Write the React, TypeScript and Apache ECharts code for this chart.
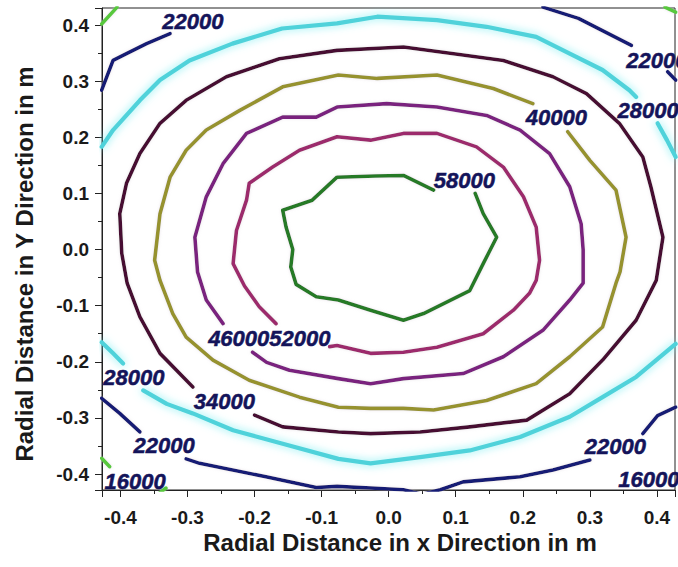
import React, { useEffect, useRef } from "react";
import * as echarts from "echarts";

// Contour level 58000 (closed loop, gap at label)
const c58 = [[0.067,0.106],[0.022,0.132],[-0.02,0.131],[-0.077,0.129],[-0.114,0.088],[-0.158,0.070],[-0.153,0.040],[-0.143,0.000],[-0.146,-0.031],[-0.138,-0.062],[-0.108,-0.084],[-0.075,-0.090],[-0.027,-0.108],[0.022,-0.126],[0.052,-0.114],[0.121,-0.073],[0.141,-0.025],[0.161,0.022],[0.141,0.064],[0.129,0.100]];
// 52000
const c52 = [[-0.088,-0.173],[-0.077,-0.171],[-0.027,-0.185],[0.022,-0.183],[0.072,-0.174],[0.141,-0.150],[0.186,-0.108],[0.210,-0.078],[0.220,-0.055],[0.225,-0.019],[0.220,0.040],[0.201,0.094],[0.171,0.147],[0.131,0.183],[0.072,0.207],[0.022,0.207],[-0.027,0.195],[-0.077,0.201],[-0.133,0.177],[-0.173,0.147],[-0.208,0.118],[-0.212,0.088],[-0.227,0.034],[-0.232,-0.025],[-0.215,-0.065],[-0.193,-0.102],[-0.168,-0.132]];
// 46000
const c46 = [[-0.203,-0.183],[-0.182,-0.201],[-0.148,-0.215],[-0.075,-0.230],[-0.027,-0.239],[0.022,-0.230],[0.111,-0.221],[0.171,-0.191],[0.230,-0.144],[0.270,-0.090],[0.290,-0.060],[0.290,0.000],[0.287,0.046],[0.270,0.112],[0.240,0.171],[0.196,0.213],[0.146,0.239],[0.072,0.254],[-0.003,0.260],[-0.077,0.254],[-0.108,0.236],[-0.158,0.236],[-0.212,0.207],[-0.247,0.153],[-0.272,0.094],[-0.289,0.022],[-0.285,-0.040],[-0.272,-0.090],[-0.247,-0.132]];
// 40000
const c40 = [[0.267,0.210],[0.300,0.159],[0.339,0.106],[0.354,0.022],[0.345,-0.040],[0.339,-0.060],[0.319,-0.138],[0.270,-0.191],[0.220,-0.239],[0.146,-0.269],[0.067,-0.286],[0.022,-0.283],[-0.027,-0.283],[-0.075,-0.281],[-0.133,-0.263],[-0.208,-0.233],[-0.262,-0.197],[-0.302,-0.156],[-0.322,-0.114],[-0.341,-0.055],[-0.349,-0.019],[-0.341,0.064],[-0.326,0.129],[-0.302,0.177],[-0.272,0.213],[-0.222,0.248],[-0.158,0.290],[-0.075,0.311],[-0.017,0.305],[0.072,0.311],[0.156,0.287],[0.215,0.260]];
// 34000
const c34 = [[-0.200,-0.295],[-0.158,-0.316],[-0.075,-0.325],[-0.027,-0.328],[0.047,-0.325],[0.121,-0.316],[0.206,-0.304],[0.270,-0.257],[0.319,-0.197],[0.369,-0.126],[0.399,-0.055],[0.409,0.022],[0.391,0.112],[0.379,0.165],[0.344,0.225],[0.295,0.278],[0.245,0.308],[0.171,0.337],[0.097,0.349],[0.022,0.361],[-0.077,0.355],[-0.163,0.340],[-0.242,0.308],[-0.302,0.266],[-0.341,0.225],[-0.371,0.171],[-0.391,0.118],[-0.401,0.064],[-0.398,-0.007],[-0.390,-0.060],[-0.371,-0.120],[-0.341,-0.185],[-0.292,-0.245]];
// 28000
const c28Top = [[-0.428,0.183],[-0.411,0.213],[-0.371,0.266],[-0.341,0.302],[-0.297,0.337],[-0.233,0.367],[-0.159,0.394],[-0.077,0.403],[-0.017,0.415],[0.072,0.409],[0.146,0.397],[0.220,0.379],[0.270,0.349],[0.319,0.320],[0.359,0.284],[0.369,0.272]];
const c28Right = [[0.401,0.225],[0.415,0.195],[0.428,0.165]];
const c28BotLeft = [[-0.428,-0.165],[-0.411,-0.185],[-0.396,-0.203]];
const c28Bot = [[-0.366,-0.251],[-0.331,-0.275],[-0.292,-0.292],[-0.232,-0.322],[-0.158,-0.346],[-0.075,-0.373],[-0.027,-0.381],[0.047,-0.370],[0.121,-0.358],[0.196,-0.334],[0.270,-0.298],[0.319,-0.263],[0.369,-0.227],[0.428,-0.168]];
// 22000
const c22TopLeft = [[-0.428,0.284],[-0.411,0.337],[-0.391,0.349],[-0.361,0.367],[-0.326,0.385]];
const c22TopRight = [[0.230,0.432],[0.283,0.412],[0.362,0.364]];
const c22Right = [[0.416,0.317],[0.428,0.302]];
const c22BotLeft = [[-0.428,-0.265],[-0.401,-0.292],[-0.371,-0.325]];
const c22Bot = [[-0.302,-0.373],[-0.282,-0.381],[-0.183,-0.405],[-0.108,-0.424],[-0.077,-0.422],[-0.027,-0.425],[0.022,-0.428],[0.050,-0.436],[0.077,-0.428],[0.111,-0.414],[0.196,-0.405],[0.245,-0.393],[0.300,-0.375]];
const c22BotRight = [[0.379,-0.328],[0.401,-0.296],[0.428,-0.281]];
// 16000
const c16TopLeft = [[-0.428,0.402],[-0.405,0.432]];
const c16TopRight = [[0.412,0.432],[0.428,0.423]];
const c16BotLeft = [[-0.428,-0.372],[-0.416,-0.387]];
const c16BotLeft2 = [[-0.342,-0.434],[-0.332,-0.425]];

// Contour labels
const labelText = ["22000","22000","28000","40000","58000","4600052000","34000","28000","22000","22000","16000","16000"];
const labelX = [-0.292, 0.400, 0.387, 0.250, 0.113, -0.178, -0.245, -0.380, -0.335, 0.338, -0.378, 0.388];
const labelY = [0.407, 0.337, 0.248, 0.235, 0.1235, -0.158, -0.271, -0.228, -0.349, -0.3515, -0.4127, -0.410];

const C58 = "#277a27";
const C52 = "#9c2c6c";
const C46 = "#7a207e";
const C40 = "#96922f";
const C34 = "#470c30";
const C28 = "#4fd2da";
const C22 = "#121c74";
const C16 = "#58c83c";
const CLABEL = "#14145a";

const FONT = "'Liberation Sans', Arial, sans-serif";

export default function App() {
  const ref = useRef<HTMLDivElement>(null);
  useEffect(() => {
    if (!ref.current) return;
    const chart = echarts.init(ref.current, null, { renderer: "svg" });
    const seg = (pts: number[][], color: string, width = 3.6, glow = false) => ({
      type: "line",
      data: pts,
      showSymbol: false,
      symbol: "none",
      smooth: false,
      clip: true,
      silent: true,
      z: 2,
      lineStyle: {
        color,
        width,
        cap: "round",
        join: "round",
        shadowBlur: glow ? 9 : 3,
        shadowColor: glow ? "rgba(120,238,242,0.95)" : "rgba(210,200,210,0.5)",
      },
    });
    const tickFmt = (v: number) => {
      const r = Math.round(v * 10);
      return Math.abs(v * 10 - r) < 1e-6 ? (r / 10).toFixed(1) : "";
    };
    const axisCommon = {
      type: "value",
      splitLine: { show: false },
      axisLine: { show: true, onZero: false, lineStyle: { color: "#222", width: 1 } },
      axisTick: { show: true, inside: false, length: 7, lineStyle: { color: "#222", width: 1 } },
      minorTick: { show: true, splitNumber: 2, length: 4, lineStyle: { color: "#222", width: 1 } },
    };
    chart.setOption({
      animation: false,
      backgroundColor: "#ffffff",
      grid: { left: 102, right: 1, top: 8, bottom: 77, show: true, borderColor: "#222", borderWidth: 1, backgroundColor: "transparent" },
      xAxis: {
        ...axisCommon,
        min: -0.4275,
        max: 0.427,
        splitNumber: 8,
        axisLabel: { margin: 18, formatter: tickFmt, fontSize: 19, fontWeight: "bold", color: "#1a1a1a", fontFamily: FONT },
      },
      yAxis: {
        ...axisCommon,
        min: -0.4285,
        max: 0.4305,
        splitNumber: 8,
        axisLabel: { margin: 13, formatter: tickFmt, fontSize: 19, fontWeight: "bold", color: "#1a1a1a", fontFamily: FONT },
      },
      graphic: [
        {
          type: "text",
          x: 400,
          y: 542,
          style: { text: "Radial Distance in x Direction in m", font: `bold 24px ${FONT}`, fill: "#1a1a1a", align: "center", verticalAlign: "middle" },
        },
        {
          type: "text",
          x: 24,
          y: 264,
          rotation: Math.PI / 2,
          style: { text: "Radial Distance in Y Direction in m", font: `bold 24px ${FONT}`, fill: "#1a1a1a", align: "center", verticalAlign: "middle" },
        },
      ],
      series: [
        seg(c16TopLeft, C16),
        seg(c16TopRight, C16),
        seg(c16BotLeft, C16),
        seg(c16BotLeft2, C16),
        seg(c22TopLeft, C22),
        seg(c22TopRight, C22),
        seg(c22Right, C22),
        seg(c22BotLeft, C22),
        seg(c22Bot, C22),
        seg(c22BotRight, C22),
        seg(c28Top, C28, 4.2, true),
        seg(c28Right, C28, 4.2, true),
        seg(c28BotLeft, C28, 4.2, true),
        seg(c28Bot, C28, 4.2, true),
        seg(c34, C34),
        seg(c40, C40),
        seg(c46, C46),
        seg(c52, C52),
        seg(c58, C58),
        {
          type: "scatter",
          symbolSize: 0,
          silent: true,
          clip: false,
          z: 5,
          itemStyle: { color: CLABEL, opacity: 1 },
          data: labelText.map((t, i) => ({ name: t, value: [labelX[i], labelY[i]] })),
          label: {
            show: true,
            position: "inside",
            formatter: "{b}",
            fontSize: 22,
            fontWeight: "bold",
            fontStyle: "italic",
            color: CLABEL,
            opacity: 1,
            textBorderWidth: 0.5,
            textBorderColor: CLABEL,
            fontFamily: FONT,
          },
        },
      ],
    });
    return () => chart.dispose();
  }, []);
  return <div ref={ref} style={{ position: "absolute", left: 0, top: 0, width: 678, height: 567 }} />;
}
